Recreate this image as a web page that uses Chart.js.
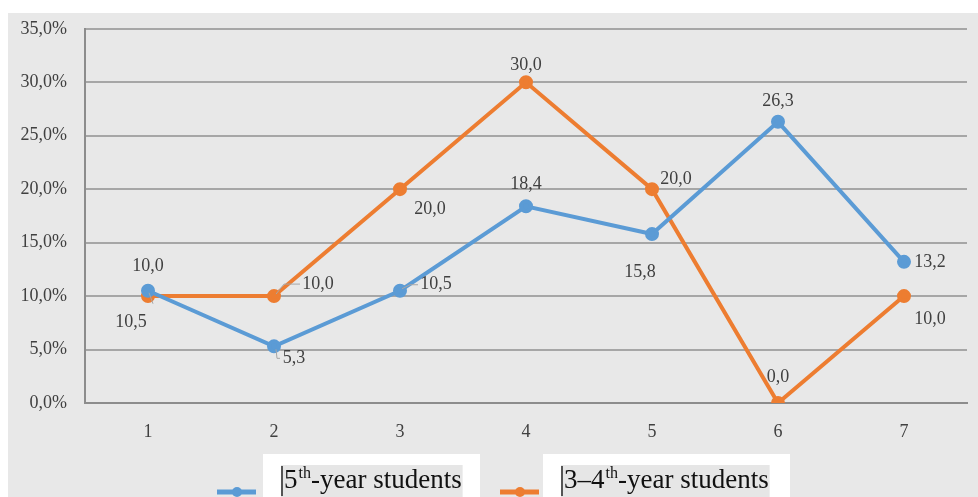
<!DOCTYPE html>
<html>
<head>
    <title>Students chart</title>
    <script src="https://cdn.jsdelivr.net/npm/chart.js"></script>
    <style>
        body { margin: 0; background: #fff; }
        #wrap { width: 978px; height: 497px; position: relative; }
    </style>
</head>
<body>
    <div id="wrap"><canvas id="chart"></canvas></div>

    <script>
        // data
        const categories = ['1', '2', '3', '4', '5', '6', '7'];
        const fifthYear = [10.5, 5.3, 10.5, 18.4, 15.8, 26.3, 13.2];
        const thirdFourthYear = [10.0, 10.0, 20.0, 30.0, 20.0, 0.0, 10.0];
        const yTicks = [0, 5, 10, 15, 20, 25, 30, 35];

        const blue = '#5b9bd5';
        const orange = '#ed7d31';
        const serif = '"Liberation Serif", "Times New Roman", serif';

        // label offsets from each point (dx, dy) and leader type
        const blueOffsets = [[-17, 32, 'short'], [20, 12, 'elbow'], [36, -6, 'flat'], [0, -22], [-12, 38], [0, -21], [26, 0]];
        const orangeOffsets = [[0, -30], [44, -12, 'flat'], [30, 20], [0, -17], [24, -10], [0, -26], [26, 23]];

        function fmt(v) {
            return v.toFixed(1).replace('.', ',');
        }

        // gray panel behind everything
        const panel = {
            id: 'panel',
            beforeDraw(chart) {
                const c = chart.ctx;
                c.save();
                c.fillStyle = '#e8e8e8';
                c.fillRect(8, 13, chart.width - 8, chart.height - 13);
                c.restore();
            }
        };

        // data labels with small leader lines
        const labels = {
            id: 'labels',
            afterDatasetsDraw(chart) {
                const c = chart.ctx;
                const offs = [blueOffsets, orangeOffsets];
                c.save();
                c.font = '18px ' + serif;
                c.textAlign = 'center';
                c.textBaseline = 'middle';
                chart.data.datasets.forEach((ds, i) => {
                    const meta = chart.getDatasetMeta(i);
                    meta.data.forEach((pt, j) => {
                        const o = offs[i][j];
                        const x = pt.x + o[0], y = pt.y + o[1];
                        c.strokeStyle = '#a6a6a6';
                        c.lineWidth = 1;
                        c.beginPath();
                        if (o[2] === 'short') {
                            c.moveTo(pt.x + 1, pt.y + 2);
                            c.lineTo(pt.x + 5, pt.y + 13);
                        } else if (o[2] === 'elbow') {
                            c.moveTo(pt.x + 2, pt.y + 3);
                            c.lineTo(pt.x + 3, y);
                            c.lineTo(x - 14, y);
                        } else if (o[2] === 'flat') {
                            c.moveTo(pt.x + 2, pt.y - 2);
                            c.lineTo(pt.x + 10, y);
                            c.lineTo(x - 18, y);
                        }
                        c.stroke();
                        c.fillStyle = '#404040';
                        c.fillText(fmt(ds.data[j]), x, y);
                    });
                });
                c.restore();
            }
        };

        // legend at the bottom, boxes partly cut by the bottom edge
        const legendBox = {
            id: 'legendBox',
            afterDraw(chart) {
                const c = chart.ctx;
                const items = [
                    { color: blue, lx: 217, box: [263, 454, 217], num: '5', sup: 'th', rest: '-year students' },
                    { color: orange, lx: 500, box: [543, 454, 247], num: '3\u20134', sup: 'th', rest: '-year students' }
                ];
                c.save();
                items.forEach(it => {
                    c.strokeStyle = it.color;
                    c.lineWidth = 5;
                    c.beginPath();
                    c.moveTo(it.lx, 492);
                    c.lineTo(it.lx + 39, 492);
                    c.stroke();
                    c.fillStyle = it.color;
                    c.beginPath();
                    c.arc(it.lx + 20, 492, 5, 0, Math.PI * 2);
                    c.fill();

                    c.fillStyle = '#ffffff';
                    c.fillRect(it.box[0], it.box[1], it.box[2], 60);

                    let x = it.box[0] + 18;
                    const base = 488;
                    c.font = '27px ' + serif;
                    const w1 = c.measureText(it.num).width;
                    c.font = '16px ' + serif;
                    const w2 = c.measureText(it.sup).width;
                    c.font = '27px ' + serif;
                    const w3 = c.measureText(it.rest).width;
                    c.fillStyle = '#e6e6e6';
                    c.fillRect(x, 465, w1 + w2 + w3 + 5, 32);
                    c.fillStyle = '#555';
                    c.fillRect(x, 466, 2, 30);
                    x += 3;
                    c.fillStyle = '#111';
                    c.textBaseline = 'alphabetic';
                    c.textAlign = 'left';
                    c.font = '27px ' + serif;
                    c.fillText(it.num, x, base);
                    x += w1 + 1;
                    c.font = '16px ' + serif;
                    c.fillText(it.sup, x, base - 10);
                    x += w2;
                    c.font = '27px ' + serif;
                    c.fillText(it.rest, x, base);
                });
                c.restore();
            }
        };

        new Chart(document.getElementById('chart'), {
            type: 'line',
            data: {
                labels: categories,
                datasets: [{
                    label: '5th-year students',
                    data: fifthYear,
                    borderColor: blue,
                    backgroundColor: blue,
                    borderWidth: 4,
                    pointRadius: 5,
                    pointHoverRadius: 5,
                    tension: 0
                }, {
                    label: '3\u20134th-year students',
                    data: thirdFourthYear,
                    borderColor: orange,
                    backgroundColor: orange,
                    borderWidth: 4,
                    pointRadius: 5,
                    pointHoverRadius: 5,
                    tension: 0
                }]
            },
            options: {
                responsive: true,
                maintainAspectRatio: false,
                animation: false,
                layout: { padding: { left: 0, right: 11, top: 25, bottom: 0 } },
                plugins: {
                    legend: { display: false },
                    tooltip: { enabled: false }
                },
                scales: {
                    x: {
                        offset: true,
                        grid: { display: false, drawTicks: false },
                        border: { color: '#8c8c8c', width: 2 },
                        ticks: { color: '#404040', padding: 18, font: { family: serif, size: 18 } },
                        afterFit(s) { s.height = 94; }
                    },
                    y: {
                        min: 0,
                        max: 35,
                        afterBuildTicks(s) { s.ticks = yTicks.map(v => ({ value: v })); },
                        grid: { color: '#a6a6a6', lineWidth: 2, drawTicks: false },
                        border: { color: '#8c8c8c', width: 2 },
                        ticks: {
                            color: '#404040',
                            padding: 18,
                            font: { family: serif, size: 18 },
                            callback: v => fmt(v) + '%'
                        },
                        afterFit(s) { s.width = 85; }
                    }
                }
            },
            plugins: [panel, labels, legendBox]
        });
    </script>
</body>
</html>
